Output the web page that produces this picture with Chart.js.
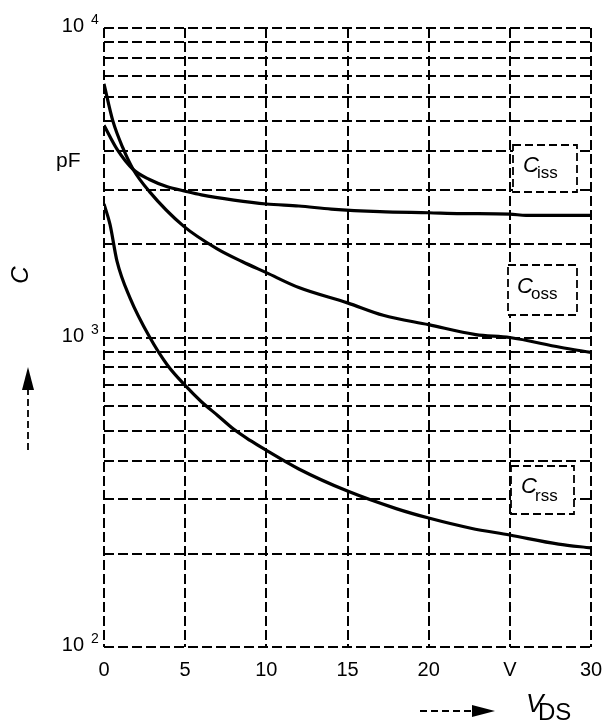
<!DOCTYPE html>
<html>
<head>
<meta charset="utf-8">
<script src="https://cdn.jsdelivr.net/npm/chart.js@4.4.1/dist/chart.umd.min.js"></script>
<style>
  html, body { margin: 0; padding: 0; background: #fff; }
  #wrap { width: 602px; height: 722px; position: relative; }
</style>
</head>
<body>
<div id="wrap"><canvas id="chart"></canvas></div>
<script>
// V_DS in volts, C in pF
const cissV = [0, 0.8, 1.8, 2.8, 3.9, 5, 6, 8, 10, 12, 14, 17, 20, 22, 25, 26, 30];
const cissC = [4850, 4060, 3490, 3240, 3070, 2970, 2890, 2780, 2700, 2660, 2600, 2550, 2530, 2515, 2505, 2480, 2480];

const cossV = [0, 0.55, 1.17, 1.8, 2.8, 4.9, 7, 8.5, 10, 12, 15, 17.2, 20, 22.9, 25, 28.1, 30];
const cossC = [6600, 5000, 4090, 3490, 2960, 2290, 1930, 1760, 1620, 1450, 1294, 1180, 1100, 1022, 1000, 930, 895];

const crssV = [0, 0.37, 0.8, 1.6, 2.8, 3.9, 5, 6, 7, 8, 9, 10, 12, 15, 18, 20, 22.6, 25, 28, 30];
const crssC = [2700, 2320, 1765, 1343, 1005, 815, 700, 620, 560, 505, 465, 432, 376, 319, 280, 261, 242, 230, 215, 209];

// axis ticks
const xTicks = [0, 5, 10, 15, 20, 25, 30];
const xTickLabels = ['0', '5', '10', '15', '20', 'V', '30'];
const yGrid = [100, 200, 300, 400, 500, 600, 700, 800, 900,
               1000, 2000, 3000, 4000, 5000, 6000, 7000, 8000, 9000, 10000];
const yDecades = [100, 1000, 10000];
const yExponents = ['2', '3', '4'];

function pts(xs, ys) { return xs.map((v, i) => ({ x: v, y: ys[i] })); }

const FONT = '"Liberation Sans", Arial, sans-serif';

// label boxes on the right (pixel placement)
const boxes = [
  { sub: 'iss', x: 513, y: 145, w: 64, h: 47, cx: 523, cy: 172, sy: 178 },
  { sub: 'oss', x: 508, y: 265, w: 69, h: 50, cx: 517, cy: 293, sy: 299 },
  { sub: 'rss', x: 511, y: 466, w: 63, h: 48, cx: 521, cy: 493, sy: 501 }
];

function arrowUp(ctx, x, yTip, yEnd) {
  ctx.save();
  ctx.strokeStyle = '#000'; ctx.fillStyle = '#000'; ctx.lineWidth = 1.8;
  ctx.setLineDash([7, 4]);
  ctx.beginPath(); ctx.moveTo(x, yEnd); ctx.lineTo(x, yTip + 20); ctx.stroke();
  ctx.setLineDash([]);
  ctx.beginPath(); ctx.moveTo(x, yTip); ctx.lineTo(x - 6, yTip + 23); ctx.lineTo(x + 6, yTip + 23); ctx.closePath(); ctx.fill();
  ctx.restore();
}
function arrowRight(ctx, xStart, xTip, y) {
  ctx.save();
  ctx.strokeStyle = '#000'; ctx.fillStyle = '#000'; ctx.lineWidth = 1.8;
  ctx.setLineDash([7, 4]);
  ctx.beginPath(); ctx.moveTo(xStart, y); ctx.lineTo(xTip - 20, y); ctx.stroke();
  ctx.setLineDash([]);
  ctx.beginPath(); ctx.moveTo(xTip, y); ctx.lineTo(xTip - 23, y - 6); ctx.lineTo(xTip - 23, y + 6); ctx.closePath(); ctx.fill();
  ctx.restore();
}

const decor = {
  id: 'decor',
  afterDraw(chart) {
    const ctx = chart.ctx;
    const xs = chart.scales.x, ys = chart.scales.y;
    ctx.save();
    ctx.fillStyle = '#000';

    // x tick labels
    ctx.font = '20px ' + FONT;
    ctx.textAlign = 'center';
    ctx.textBaseline = 'middle';
    xTicks.forEach((v, i) => ctx.fillText(xTickLabels[i], xs.getPixelForValue(v), 670));

    // y decade labels 10^n
    ctx.textBaseline = 'alphabetic';
    yDecades.forEach((v, i) => {
      const py = ys.getPixelForValue(v);
      ctx.font = '20px ' + FONT;
      ctx.textAlign = 'right';
      ctx.fillText('10', 84, py + 4);
      ctx.font = '14px ' + FONT;
      ctx.textAlign = 'left';
      ctx.fillText(yExponents[i], 91, py - 4);
    });

    // unit
    ctx.font = '21px ' + FONT;
    ctx.textAlign = 'left';
    ctx.fillText('pF', 56, 167);

    // y title
    ctx.save();
    ctx.translate(28, 275);
    ctx.rotate(-Math.PI / 2);
    ctx.font = 'italic 24px ' + FONT;
    ctx.textAlign = 'center';
    ctx.textBaseline = 'alphabetic';
    ctx.fillText('C', 0, 0);
    ctx.restore();

    arrowUp(ctx, 28, 367, 450);
    arrowRight(ctx, 420, 495, 711);

    // x title V_DS
    ctx.font = 'italic 26px ' + FONT;
    ctx.textAlign = 'left';
    ctx.fillText('V', 526, 712);
    ctx.font = '24px ' + FONT;
    ctx.fillText('DS', 538, 720);

    // curve labels
    boxes.forEach(b => {
      ctx.fillStyle = '#fff';
      ctx.fillRect(b.x, b.y, b.w, b.h);
      ctx.strokeStyle = '#000';
      ctx.lineWidth = 1.8;
      ctx.setLineDash([8, 4]);
      ctx.strokeRect(b.x, b.y, b.w, b.h);
      ctx.setLineDash([]);
      ctx.fillStyle = '#000';
      ctx.font = 'italic 22px ' + FONT;
      ctx.fillText('C', b.cx, b.cy);
      ctx.font = '17px ' + FONT;
      ctx.fillText(b.sub, b.cx + 14, b.sy);
    });
    ctx.restore();
  }
};

const lineStyle = {
  borderColor: '#000',
  borderWidth: 3.2,
  pointRadius: 0,
  fill: false,
  cubicInterpolationMode: 'monotone'
};

new Chart(document.getElementById('chart').getContext('2d'), {
  type: 'line',
  data: {
    datasets: [
      Object.assign({ label: 'Ciss', data: pts(cissV, cissC) }, lineStyle),
      Object.assign({ label: 'Coss', data: pts(cossV, cossC) }, lineStyle),
      Object.assign({ label: 'Crss', data: pts(crssV, crssC) }, lineStyle)
    ]
  },
  options: {
    responsive: true,
    maintainAspectRatio: false,
    animation: false,
    layout: { padding: { left: 104, right: 11, top: 28, bottom: 75 } },
    plugins: { legend: { display: false }, tooltip: { enabled: false } },
    scales: {
      x: {
        type: 'linear',
        min: 0,
        max: 30,
        afterBuildTicks: s => { s.ticks = xTicks.map(v => ({ value: v })); },
        ticks: { display: false },
        grid: { color: '#000', lineWidth: 2, drawTicks: false },
        border: { display: false, dash: [10, 4] }
      },
      y: {
        type: 'logarithmic',
        min: 100,
        max: 10000,
        afterBuildTicks: s => { s.ticks = yGrid.map(v => ({ value: v })); },
        ticks: { display: false },
        grid: { color: '#000', lineWidth: 2, drawTicks: false },
        border: { display: false, dash: [10, 4] }
      }
    }
  },
  plugins: [decor]
});
</script>
</body>
</html>
